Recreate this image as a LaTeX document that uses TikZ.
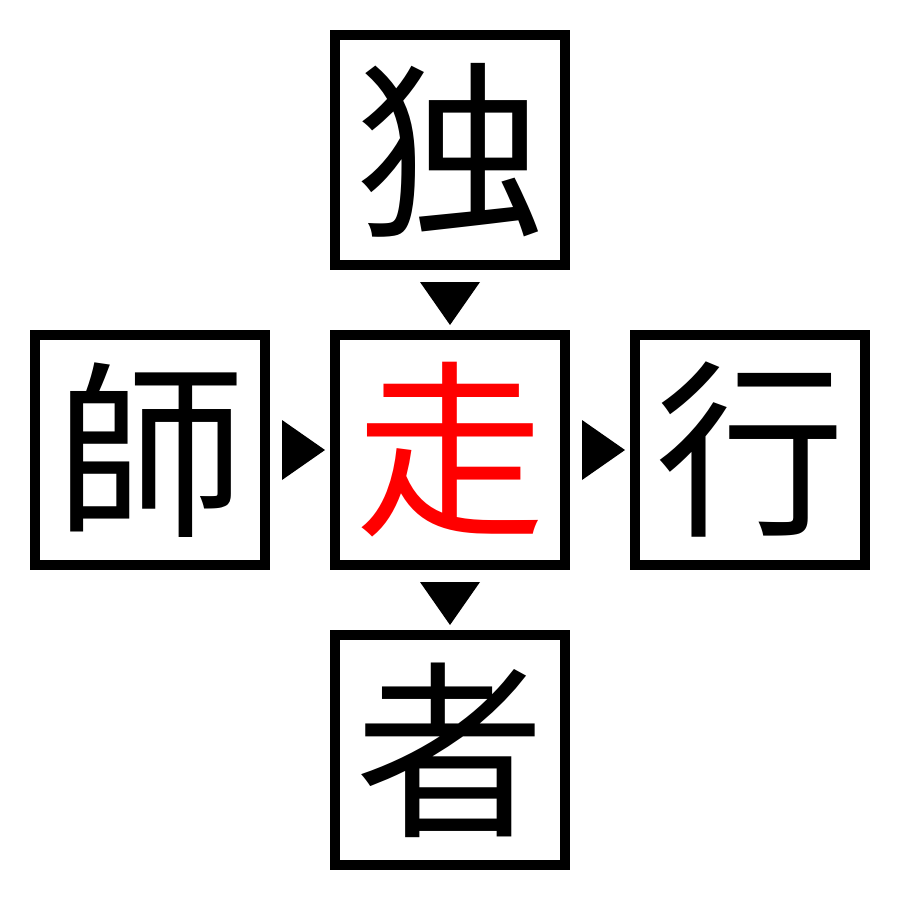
\documentclass[tikz,border=0pt]{standalone}
\usepackage{fontspec}
\newfontfamily\kanji{Noto Sans CJK JP}
\usetikzlibrary{calc}
\tikzset{cell/.style={draw,line width=0.1cm,minimum size=2.3cm,inner sep=0,
  font=\kanji\fontsize{54}{54}\selectfont}}
\begin{document}
\begin{tikzpicture}[x=0.01cm,y=-0.01cm]
\useasboundingbox (0,0) rectangle (900,900);
\node[cell] (du) at (450,150) {独};
\node[cell] (shi) at (150,450) {師};
\node[cell,text=red] (so) at (450,450) {走};
\node[cell] (ko) at (750,450) {行};
\node[cell] (sha) at (450,750) {者};
% markers between the cells
\foreach \a/\b in {shi/so,so/ko}
  \fill ($(\a)!.5!(\b)+(-18,-30)$) -- ++(0,60) -- ++(43,-30) -- cycle;
\foreach \a/\b in {du/so,so/sha}
  \fill ($(\a)!.5!(\b)+(-30,-18)$) -- ++(60,0) -- ++(-30,43) -- cycle;
\end{tikzpicture}
\end{document}
